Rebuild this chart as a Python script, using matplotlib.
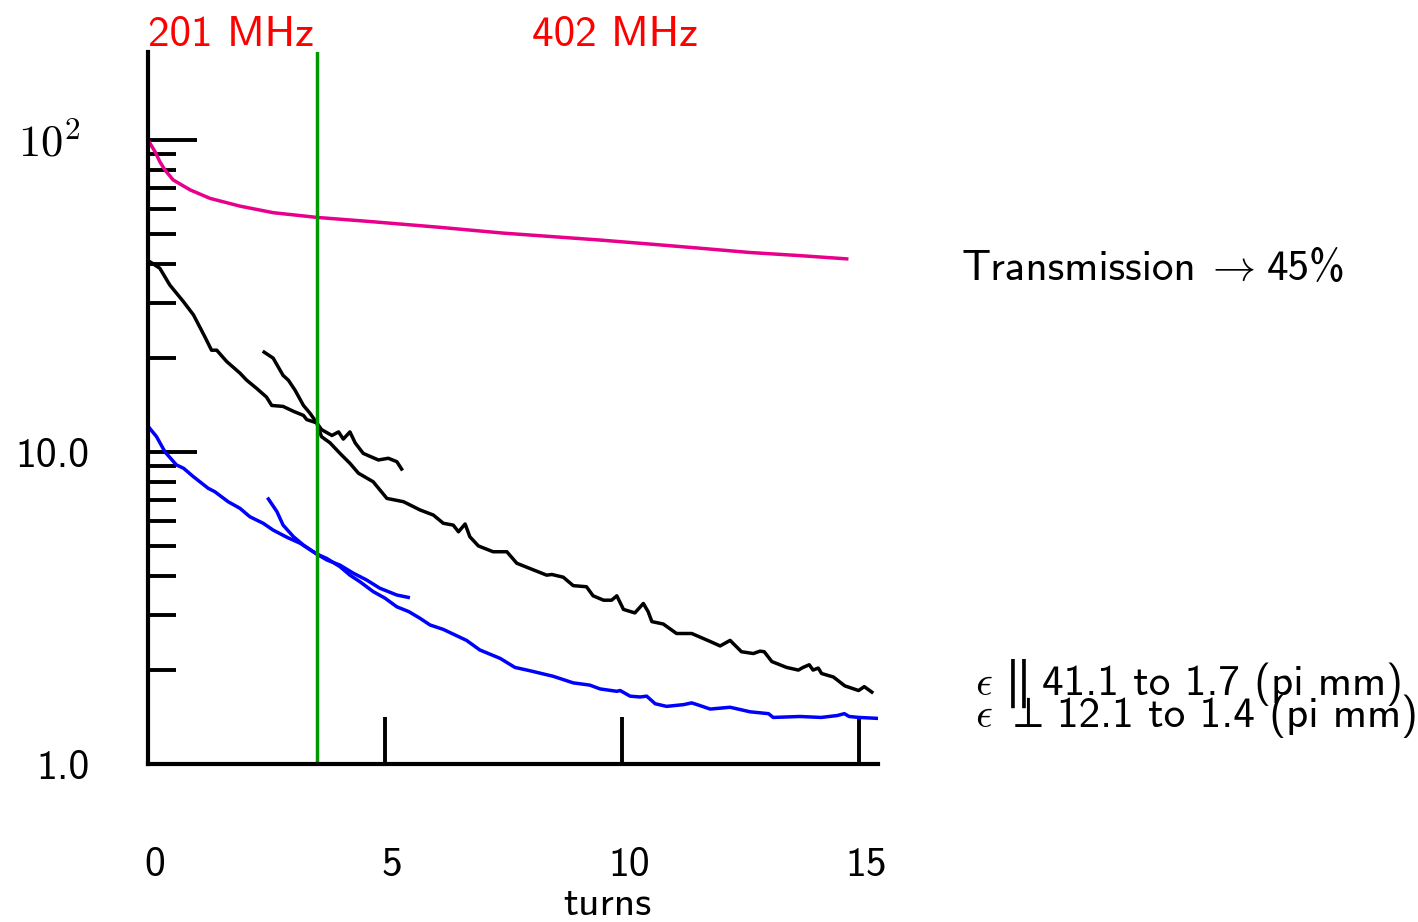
import matplotlib
matplotlib.use("Agg")
import matplotlib.pyplot as plt
from matplotlib.ticker import LogLocator, NullFormatter, FixedLocator
from matplotlib.transforms import ScaledTranslation

plt.rcParams["font.family"] = "cmss10"
plt.rcParams["mathtext.fontset"] = "cm"
plt.rcParams["axes.unicode_minus"] = False

# transmission (percent of initial beam)
trans_turns = [0.0, 0.15, 0.25, 0.36, 0.53, 0.89, 1.31, 1.94, 2.64, 3.56, 4.75,
               6.16, 7.50, 9.54, 10.59, 11.65, 12.70, 13.76, 14.74]
trans_vals = [100.0, 91.7, 85.2, 80.1, 74.5, 69.2, 65.0, 61.4, 58.5, 56.5, 54.7,
              52.5, 50.3, 47.8, 46.4, 45.0, 43.6, 42.6, 41.6]

# longitudinal emittance, full run
long_turns = [0.0, 0.25, 0.46, 0.75, 0.96, 1.20, 1.34, 1.45, 1.66, 1.94, 2.08,
              2.29, 2.50, 2.61, 2.85, 3.07, 3.28, 3.35, 3.56, 3.66, 3.84, 4.05,
              4.26, 4.44, 4.75, 5.04, 5.39, 5.74, 6.02, 6.23, 6.44, 6.55, 6.69,
              6.79, 6.97, 7.28, 7.57, 7.78, 8.13, 8.41, 8.52, 8.76, 8.97, 9.25,
              9.39, 9.61, 9.78, 9.89, 10.03, 10.27, 10.45, 10.55, 10.63, 10.87,
              11.15, 11.47, 11.86, 12.07, 12.28, 12.52, 12.77, 12.91, 13.00,
              13.16, 13.47, 13.72, 13.82, 13.95, 14.03, 14.14, 14.21, 14.46,
              14.70, 14.99, 15.11, 15.27]
long_emit = [41.1, 38.8, 34.3, 30.3, 27.5, 23.4, 21.2, 21.2, 19.5, 17.9, 17.0,
             16.0, 15.0, 14.1, 14.0, 13.5, 13.1, 12.7, 12.4, 11.2, 10.7, 9.9,
             9.2, 8.55, 8.03, 7.1, 6.93, 6.52, 6.28, 5.91, 5.83, 5.55, 5.88,
             5.35, 5.0, 4.79, 4.79, 4.40, 4.19, 4.03, 4.05, 3.97, 3.73, 3.70,
             3.46, 3.35, 3.35, 3.46, 3.13, 3.05, 3.27, 3.08, 2.86, 2.81,
             2.62, 2.62, 2.47, 2.39, 2.49, 2.29, 2.26, 2.30, 2.29,
             2.13, 2.04, 2.00, 2.04, 2.08, 2.00, 2.03, 1.95, 1.90,
             1.78, 1.72, 1.77, 1.7]

# longitudinal emittance, second run
long2_turns = [2.45, 2.64, 2.85, 2.96, 3.10, 3.28, 3.42, 3.56, 3.66, 3.88, 4.02,
               4.12, 4.26, 4.37, 4.54, 4.86, 5.07, 5.25, 5.35]
long2_emit = [20.9, 20.0, 17.6, 17.0, 15.8, 14.1, 13.3, 12.4, 11.8, 11.3, 11.6,
              11.0, 11.6, 10.7, 9.9, 9.43, 9.55, 9.31, 8.82]

# transverse emittance, full run
trans_e_turns = [0.0, 0.18, 0.36, 0.60, 0.75, 0.96, 1.27, 1.41, 1.69, 1.94, 2.15,
                 2.43, 2.64, 2.93, 3.21, 3.56, 3.77, 4.05, 4.26, 4.47, 4.75,
                 5.00, 5.25, 5.50, 5.74, 5.95, 6.23, 6.72, 7.00, 7.43, 7.74,
                 8.06, 8.55, 8.97, 9.32, 9.54, 9.89, 9.96, 10.17, 10.38, 10.52,
                 10.70, 10.94, 11.30, 11.47, 11.64, 11.86, 12.28, 12.70, 13.09,
                 13.19, 13.75, 14.20, 14.54, 14.69, 14.79, 15.00, 15.41]
trans_e_emit = [12.1, 11.2, 10.0, 9.09, 8.87, 8.33, 7.65, 7.46, 6.93, 6.60, 6.20,
                5.91, 5.62, 5.33, 5.10, 4.71, 4.56, 4.29, 4.03, 3.84, 3.57,
                3.40, 3.19, 3.08, 2.93, 2.79, 2.70, 2.49, 2.32, 2.18, 2.04,
                1.99, 1.91, 1.82, 1.79, 1.74, 1.71, 1.72, 1.65, 1.64, 1.65,
                1.56, 1.53, 1.55, 1.57, 1.54, 1.50, 1.52, 1.47, 1.45,
                1.41, 1.42, 1.41, 1.43, 1.45, 1.42, 1.41, 1.4]

# transverse emittance, second run
trans2_turns = [2.54, 2.72, 2.85, 3.07, 3.28, 3.56, 3.77, 4.05, 4.33, 4.61,
                4.89, 5.25, 5.49]
trans2_emit = [7.07, 6.44, 5.83, 5.35, 5.03, 4.71, 4.51, 4.34, 4.09, 3.89,
               3.66, 3.48, 3.42]

switch_turn = 3.565  # 201 -> 402 MHz
x_ticks = [0, 5, 10, 15]
y_ticks = [1.0, 10.0, 100.0]
y_tick_labels = ["1.0", "10.0", "$10^2$"]

W, H = 1418, 922


def fx(px):
    return px / W


def fy(py):
    return 1 - py / H


fig = plt.figure(figsize=(W / 100, H / 100), dpi=100)
ax = fig.add_axes([fx(148), fy(764), fx(878) - fx(148), fy(52) - fy(764)])

lw = 2.5
ax.plot(trans_turns, trans_vals, color="#e8008c", lw=lw)
ax.plot(long_turns, long_emit, color="black", lw=lw)
ax.plot(long2_turns, long2_emit, color="black", lw=lw)
ax.plot(trans_e_turns, trans_e_emit, color="#0000ff", lw=lw)
ax.plot(trans2_turns, trans2_emit, color="#0000ff", lw=lw)
ax.axvline(switch_turn, color="#009900", lw=lw)

ax.set_yscale("log")
ax.set_xlim(0, 15.4)
ax.set_ylim(1.0, 191.5)

for s in ["top", "right"]:
    ax.spines[s].set_visible(False)
for s in ["left", "bottom"]:
    ax.spines[s].set_linewidth(3.0)

ax.yaxis.set_major_locator(FixedLocator(y_ticks))
ax.set_yticklabels(y_tick_labels)
ax.yaxis.set_minor_locator(LogLocator(base=10, subs=range(2, 10)))
ax.yaxis.set_minor_formatter(NullFormatter())
ax.set_xticks(x_ticks)
ax.set_xticklabels([str(t) for t in x_ticks])

ax.tick_params(axis="y", which="major", direction="in", length=35, width=2.8,
               pad=42, labelsize=30)
ax.tick_params(axis="y", which="minor", direction="in", length=20, width=2.8)
ax.tick_params(axis="x", which="major", direction="in", length=34, width=2.8,
               pad=60, labelsize=30)

shift = ScaledTranslation(7 / 100, 0, fig.dpi_scale_trans)
for lab in ax.get_xticklabels():
    lab.set_transform(lab.get_transform() + shift)
top_lab = ax.get_yticklabels()[2]
top_lab.set_fontsize(32)
top_lab.set_transform(top_lab.get_transform()
                      + ScaledTranslation(-9 / 100, 0, fig.dpi_scale_trans))

fig.text(fx(607), fy(915), "turns", fontsize=30, ha="center", va="baseline")

fig.text(fx(231), fy(46), "201 MHz", fontsize=31, color="red", ha="center", va="baseline")
fig.text(fx(615), fy(46), "402 MHz", fontsize=31, color="red", ha="center", va="baseline")

# right-hand annotations
fig.text(fx(962), fy(280), "Transmission", fontsize=31, ha="left", va="baseline")
fig.text(fx(1205), fy(280), r"$\rightarrow$", fontsize=31, ha="left", va="baseline")
fig.text(fx(1267), fy(280), "45%", fontsize=31, ha="left", va="baseline")

fig.text(fx(975), fy(695), r"$\epsilon$", fontsize=30, ha="left", va="baseline")
fig.text(fx(1011), fy(684), r"$\parallel$", fontsize=40, ha="center", va="center")
fig.text(fx(1042), fy(695), "41.1 to 1.7 (pi mm)", fontsize=31, ha="left", va="baseline")

fig.text(fx(975), fy(727), r"$\epsilon$", fontsize=30, ha="left", va="baseline")
fig.text(fx(1005), fy(727), r"$\perp$", fontsize=32, ha="left", va="baseline")
fig.text(fx(1057), fy(727), "12.1 to 1.4 (pi mm)", fontsize=31, ha="left", va="baseline")

fig.savefig("out.png", dpi=100)
